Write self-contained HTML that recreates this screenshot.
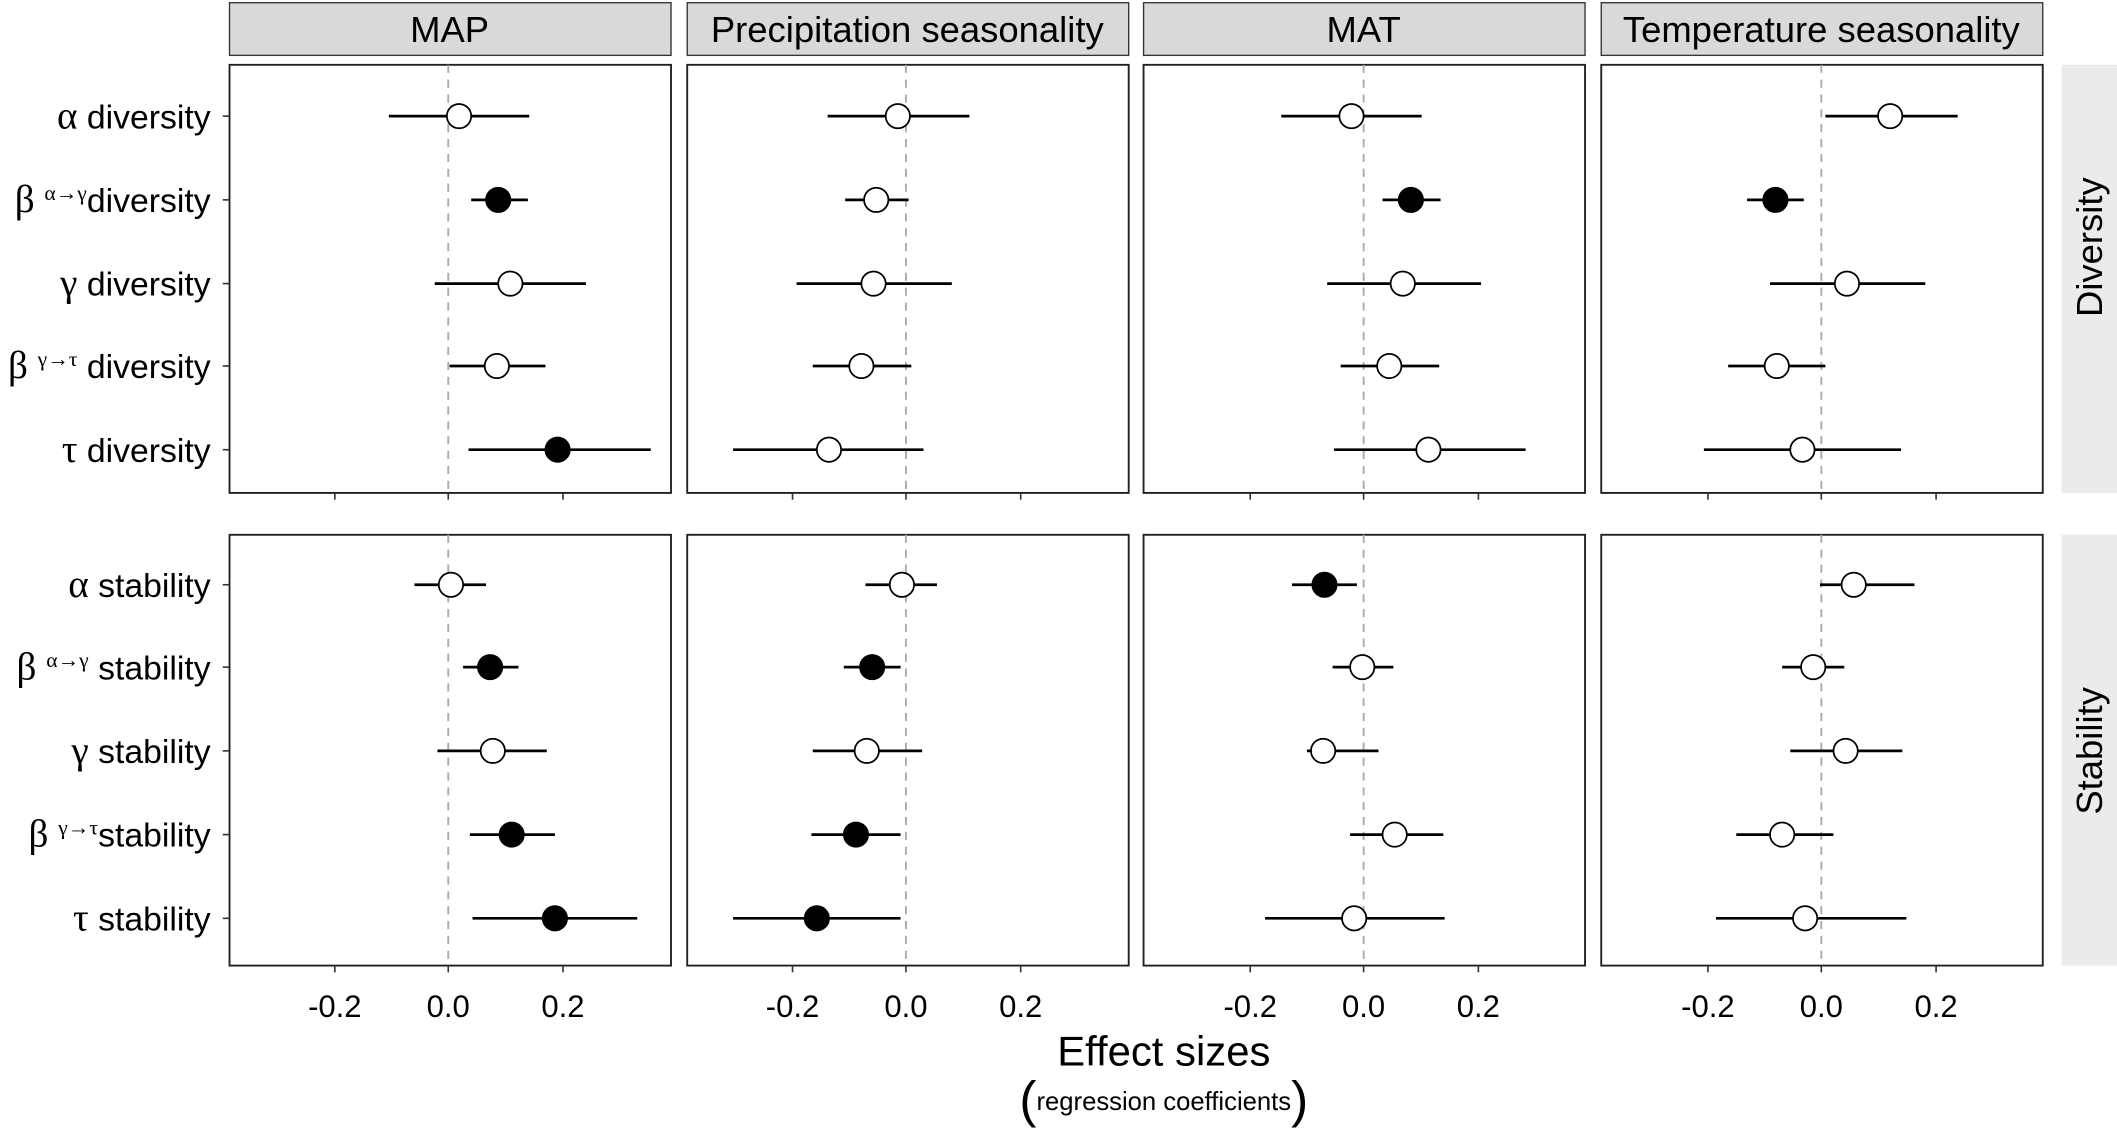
<!DOCTYPE html>
<html><head><meta charset="utf-8"><style>
html,body{margin:0;padding:0;background:#fff;}
svg{display:block;}
text{font-family:"Liberation Sans",sans-serif;fill:#000;}
.g{font-family:"Liberation Serif",serif;}
</style></head><body>
<svg id="s" width="2117" height="1129" viewBox="0 0 1568 836" preserveAspectRatio="none" xmlns="http://www.w3.org/2000/svg">
<rect width="1568" height="836" fill="#fff"/>
<g fill="#d9d9d9" stroke="#333" stroke-width="1">
<rect x="170" y="2" width="327" height="39"/>
<rect x="509" y="2" width="327" height="39"/>
<rect x="847" y="2" width="327" height="39"/>
<rect x="1186" y="2" width="327" height="39"/>
</g>
<g font-size="27" text-anchor="middle">
<text x="333" y="31">MAP</text>
<text x="672" y="31">Precipitation seasonality</text>
<text x="1010" y="31">MAT</text>
<text x="1349" y="31">Temperature seasonality</text>
</g>
<rect x="1527" y="48" width="41" height="317" fill="#ebebeb"/>
<rect x="1527" y="396" width="41" height="319" fill="#ebebeb"/>
<text font-size="27" text-anchor="middle" transform="translate(1557,183) rotate(-90)">Diversity</text>
<text font-size="27" text-anchor="middle" transform="translate(1557,556) rotate(-90)">Stability</text>
<g font-size="25" text-anchor="end">
<text x="156" y="95"><tspan class="g" font-size="29">α</tspan> diversity</text>
<text x="156" y="157"><tspan class="g" font-size="29">β </tspan><tspan class="g" font-size="16" dy="-9">α→γ</tspan><tspan dy="9">diversity</tspan></text>
<text x="156" y="219"><tspan class="g" font-size="29">γ</tspan> diversity</text>
<text x="156" y="280"><tspan class="g" font-size="29">β </tspan><tspan class="g" font-size="16" dy="-9">γ→τ</tspan><tspan dy="9"> diversity</tspan></text>
<text x="156" y="342"><tspan class="g" font-size="29">τ</tspan> diversity</text>
<text x="156" y="442"><tspan class="g" font-size="29">α</tspan> stability</text>
<text x="156" y="503"><tspan class="g" font-size="29">β </tspan><tspan class="g" font-size="16" dy="-9">α→γ</tspan><tspan dy="9"> stability</tspan></text>
<text x="156" y="565"><tspan class="g" font-size="29">γ</tspan> stability</text>
<text x="156" y="627"><tspan class="g" font-size="29">β </tspan><tspan class="g" font-size="16" dy="-9">γ→τ</tspan><tspan dy="9">stability</tspan></text>
<text x="156" y="689"><tspan class="g" font-size="29">τ</tspan> stability</text>
</g>
<g font-size="23" text-anchor="middle">
<text x="248" y="753">-0.2</text><text x="332" y="753">0.0</text><text x="417" y="753">0.2</text>
<text x="587" y="753">-0.2</text><text x="671" y="753">0.0</text><text x="756" y="753">0.2</text>
<text x="926" y="753">-0.2</text><text x="1010" y="753">0.0</text><text x="1095" y="753">0.2</text>
<text x="1265" y="753">-0.2</text><text x="1349" y="753">0.0</text><text x="1434" y="753">0.2</text>
</g>
<text x="862" y="789" font-size="31" text-anchor="middle">Effect sizes</text>
<text x="862" y="822" font-size="19" text-anchor="middle"><tspan font-size="38" dy="5">(</tspan><tspan dy="-5">regression coefficients</tspan><tspan font-size="38" dy="5">)</tspan></text>
<g id="plots"></g>
</svg>
<script>
var NS="http://www.w3.org/2000/svg",P=document.getElementById("plots");
function el(t,a){var e=document.createElementNS(NS,t);for(var k in a)e.setAttribute(k,a[k]);P.appendChild(e);return e;}
var px=[170,509,847,1186],zero=[332,671,1010,1349],rows=[[48,365],[396,715]];
var ty=[[86,148,210,271,333],[433,494,556,618,680]];
var D=[
[[340,288,392,0],[369,349,391,1],[378,322,434,0],[368,333,404,0],[413,347,482,1],
 [334,307,360,0],[363,343,384,1],[365,324,405,0],[379,348,411,1],[411,350,472,1]],
[[665,613,718,0],[649,626,673,0],[647,590,705,0],[638,602,675,0],[614,543,684,0],
 [668,641,694,0],[646,625,667,1],[642,602,683,0],[634,601,667,1],[605,543,667,1]],
[[1001,949,1053,0],[1045,1024,1067,1],[1039,983,1097,0],[1029,993,1066,0],[1058,988,1130,0],
 [981,957,1005,1],[1009,987,1032,0],[980,968,1021,0],[1033,1000,1069,0],[1003,937,1070,0]],
[[1400,1352,1450,0],[1315,1294,1336,1],[1368,1311,1426,0],[1316,1280,1352,0],[1335,1262,1408,0],
 [1373,1348,1418,0],[1343,1320,1366,0],[1367,1326,1409,0],[1320,1286,1358,0],[1337,1271,1412,0]]];
for(var p=0;p<4;p++){for(var r=0;r<2;r++){
 var y0=rows[r][0],y1=rows[r][1],x0=px[p];
 el("rect",{x:x0,y:y0,width:327,height:y1-y0,fill:"#fff",stroke:"#222","stroke-width":1.4});
 el("line",{x1:zero[p],x2:zero[p],y1:y0,y2:y1,stroke:"#aaa","stroke-width":1.4,"stroke-dasharray":"6,5"});
 [-84,0,85].forEach(function(d){el("line",{x1:zero[p]+d,x2:zero[p]+d,y1:y1,y2:y1+5,stroke:"#333","stroke-width":1.2});});
 if(p==0)ty[r].forEach(function(y){el("line",{x1:165,x2:170,y1:y,y2:y,stroke:"#333","stroke-width":1.2});});
 for(var i=0;i<5;i++){var d=D[p][r*5+i],y=ty[r][i];
  el("line",{x1:d[1],x2:d[2],y1:y,y2:y,stroke:"#000","stroke-width":2});
  el("circle",{cx:d[0],cy:y,r:9,fill:d[3]?"#000":"#fff",stroke:"#000","stroke-width":1.3});}
}}
</script>
</body></html>
